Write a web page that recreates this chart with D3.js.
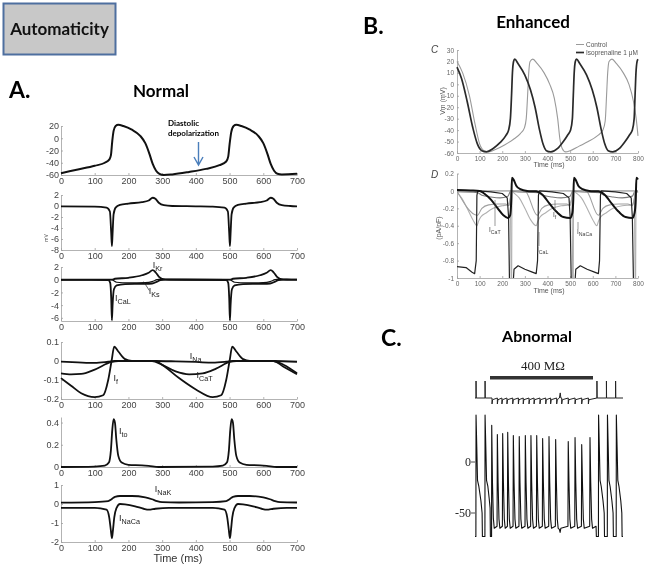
<!DOCTYPE html>
<html><head><meta charset="utf-8">
<script src="https://cdn.jsdelivr.net/npm/d3@7"></script>
<style>body{margin:0;background:#fff}svg{display:block}svg text{filter:grayscale(1)}</style>
</head><body>
<script>
// ---------------- DATA ----------------
const timeTicksA = [0,100,200,300,400,500,600,700];
const vmTicksA = [-60,-40,-20,0,20];
const totTicksA = [-8,-6,-4,-2,0,2];
const kTicksA = [-6,-4,-2,0,2];
const fTicksA = [-0.2,-0.1,0,0.1];
const toTicksA = [0,0.2,0.4];
const naTicksA = [-2,-1,0,1];

const vmNormal = [[0,-57],[50,-51],[100,-45],[130,-40],[143,-35],[148,-28],[152,-5],[156,12],[162,20],[170,22],[185,20],[210,14],[235,4],[250,-8],[262,-25],[272,-42],[282,-53],[292,-58],[305,-60],[330,-59],[380,-55],[430,-50],[470,-44],[490,-38],[496,-30],[500,-10],[505,10],[512,20],[520,22],[535,20],[560,14],[585,4],[600,-8],[612,-25],[622,-42],[632,-53],[642,-58],[655,-59],[700,-58]];
const iTotal = [[0,-0.05],[100,-0.1],[135,-0.3],[145,-1],[149,-5],[151,-7.3],[153,-5],[156,-1.5],[162,-0.3],[175,0.2],[200,0.45],[240,0.7],[260,1.0],[272,1.5],[280,1.3],[290,0.6],[305,0.15],[330,0],[400,-0.05],[450,-0.1],[485,-0.3],[495,-1],[499,-5],[501,-7.3],[503,-5],[506,-1.5],[512,-0.3],[525,0.2],[550,0.45],[590,0.7],[610,1.0],[622,1.5],[630,1.3],[640,0.6],[655,0.15],[680,0],[700,-0.05]];
const iKr = [[0,0.02],[140,0.02],[150,0],[160,0.15],[200,0.3],[240,0.7],[260,1.1],[272,1.5],[280,1.2],[290,0.5],[300,0.15],[320,0.03],[490,0.02],[500,0],[510,0.15],[550,0.3],[590,0.7],[610,1.1],[622,1.5],[630,1.2],[640,0.5],[650,0.15],[670,0.03],[700,0.02]];
const iKs = [[0,0],[150,0],[165,-0.4],[200,-0.5],[250,-0.45],[270,-0.3],[285,0],[290,0.05],[310,0],[500,0],[515,-0.4],[550,-0.5],[600,-0.45],[620,-0.3],[635,0],[640,0.05],[660,0],[700,0]];
const iCaL = [[0,-0.02],[140,-0.05],[146,-0.5],[149,-3],[151,-6.4],[153,-4],[157,-1.5],[165,-0.9],[190,-0.7],[240,-0.65],[270,-0.6],[285,-0.3],[295,-0.05],[310,0],[490,-0.05],[496,-0.5],[499,-3],[501,-6.4],[503,-4],[507,-1.5],[515,-0.9],[540,-0.7],[590,-0.65],[620,-0.6],[635,-0.3],[645,-0.05],[660,0],[700,0]];
const iNa = [[0,-0.003],[50,-0.007],[100,-0.01],[140,-0.004],[160,0],[280,0],[340,-0.002],[400,-0.005],[450,-0.009],[490,-0.004],[510,0],[630,0],[700,-0.004]];
const iF = [[0,-0.09],[30,-0.13],[60,-0.17],[100,-0.19],[125,-0.18],[140,-0.1],[150,0],[158,0.075],[170,0.05],[190,0.01],[210,0],[280,0],[300,-0.02],[350,-0.09],[400,-0.15],[450,-0.19],[475,-0.18],[490,-0.1],[500,0],[508,0.075],[520,0.05],[540,0.01],[560,0],[630,0],[660,-0.03],[700,-0.07]];
const iCaT = [[0,-0.065],[30,-0.07],[60,-0.068],[100,-0.045],[150,-0.005],[170,0],[270,0],[300,-0.02],[340,-0.055],[380,-0.07],[420,-0.065],[460,-0.04],[500,-0.005],[520,0],[630,0],[660,-0.02],[700,-0.065]];
const iTo = [[0,0],[100,0.004],[130,0.012],[142,0.04],[148,0.15],[152,0.33],[156,0.43],[160,0.4],[164,0.25],[170,0.1],[180,0.04],[200,0.02],[240,0.015],[260,0.01],[290,0],[450,0.004],[480,0.012],[492,0.04],[498,0.15],[502,0.33],[506,0.43],[510,0.4],[514,0.25],[520,0.1],[530,0.04],[550,0.02],[590,0.015],[610,0.01],[640,0],[700,0]];
const iNaK = [[0,0.07],[100,0.1],[140,0.15],[150,0.25],[160,0.38],[175,0.42],[210,0.42],[250,0.35],[270,0.25],[285,0.15],[300,0.1],[350,0.08],[450,0.1],[490,0.15],[500,0.25],[510,0.38],[525,0.42],[560,0.42],[600,0.35],[620,0.25],[635,0.15],[650,0.1],[700,0.08]];
const iNaCa = [[0,-0.2],[100,-0.2],[135,-0.3],[143,-0.7],[148,-1.4],[151,-1.8],[154,-1.4],[158,-0.7],[165,-0.2],[175,0],[190,-0.02],[220,-0.12],[245,-0.25],[260,-0.3],[280,-0.25],[320,-0.2],[450,-0.2],[485,-0.3],[493,-0.7],[498,-1.4],[501,-1.8],[504,-1.4],[508,-0.7],[515,-0.2],[525,0],[540,-0.02],[570,-0.12],[595,-0.25],[610,-0.3],[630,-0.25],[670,-0.2],[700,-0.2]];

// Panel B
const timeTicksB = [0,100,200,300,400,500,600,700,800];
const vmTicksB = [-60,-50,-40,-30,-20,-10,0,10,20,30];
const curTicksB = [-1,-0.8,-0.6,-0.4,-0.2,0,0.2];
const vmIso = [[0,15],[20,5],[45,-15],[70,-38],[90,-52],[110,-58],[130,-59],[160,-56],[190,-51],[215,-45],[228,-40],[236,-30],[241,-10],[245,10],[250,20],[255,22],[270,18],[300,8],[325,-5],[345,-20],[365,-40],[380,-52],[395,-58],[415,-59],[445,-56],[470,-50],[490,-44],[502,-40],[510,-30],[514,-10],[518,10],[523,20],[528,22],[543,18],[573,8],[598,-5],[618,-20],[638,-40],[653,-52],[668,-58],[688,-59],[718,-56],[743,-50],[763,-44],[775,-40],[783,-30],[787,-10],[791,10],[796,20],[800,22]];
const vmControl = [[0,20],[25,10],[55,-10],[80,-35],[100,-52],[120,-58],[140,-59],[170,-57],[210,-53],[250,-48],[280,-43],[298,-38],[306,-30],[312,-10],[317,10],[323,20],[335,22],[355,18],[385,10],[410,0],[430,-12],[445,-30],[455,-48],[465,-56],[480,-59],[500,-58],[540,-54],[580,-50],[620,-45],[645,-40],[655,-32],[661,-10],[666,10],[672,20],[685,22],[705,18],[735,10],[760,0],[780,-15],[792,-30],[800,-45]];
const dZero = [[0,0],[800,0]];
const dFIso = [[0,-0.02],[20,-0.08],[45,-0.2],[70,-0.33],[88,-0.4],[95,-0.35],[105,-0.3],[130,-0.25],[160,-0.2],[200,-0.17],[225,-0.16],[236,-0.08],[242,0],[250,-0.02],[275,-0.08],[300,-0.2],[325,-0.33],[350,-0.4],[357,-0.35],[367,-0.3],[392,-0.25],[422,-0.2],[462,-0.17],[495,-0.16],[508,-0.08],[515,0],[525,-0.02],[550,-0.08],[575,-0.2],[600,-0.33],[618,-0.4],[625,-0.35],[635,-0.3],[660,-0.25],[690,-0.2],[730,-0.17],[775,-0.16],[785,-0.08],[792,0],[800,-0.02]];
const dCaTIso = [[0,-0.01],[90,-0.02],[110,-0.05],[150,-0.07],[190,-0.08],[225,-0.06],[238,0],[260,-0.01],[360,-0.02],[380,-0.05],[420,-0.07],[460,-0.08],[500,-0.06],[512,0],[535,-0.01],[630,-0.02],[650,-0.05],[690,-0.07],[730,-0.08],[775,-0.06],[788,0],[800,-0.01]];
const dCaTCtrl = [[0,0],[90,-0.28],[110,-0.2],[140,-0.16],[180,-0.15],[215,-0.15],[230,-0.17],[238,-0.05],[243,0],[300,0],[355,-0.28],[375,-0.2],[405,-0.16],[445,-0.15],[485,-0.15],[500,-0.17],[510,-0.05],[516,0],[570,0],[625,-0.28],[645,-0.2],[675,-0.16],[715,-0.15],[755,-0.15],[775,-0.17],[787,-0.05],[792,0],[800,0]];
const dNaCa = [[0,0.01],[60,0.005],[100,0],[120,-0.03],[150,-0.1],[180,-0.2],[205,-0.28],[225,-0.31],[235,-0.28],[240,-0.1],[243,0.15],[250,0.13],[262,0.06],[280,0.02],[310,0],[350,-0.005],[380,-0.05],[410,-0.15],[440,-0.24],[470,-0.3],[500,-0.31],[510,-0.25],[514,-0.1],[517,0.15],[524,0.13],[536,0.06],[555,0.02],[585,0],[625,-0.005],[655,-0.05],[685,-0.15],[715,-0.24],[745,-0.3],[775,-0.31],[785,-0.25],[790,-0.1],[793,0.15],[800,0.13]];
const dCaL = [[0,-0.87],[40,-0.88],[65,-0.93],[78,-0.95],[85,-0.8],[88,-0.05],[92,0],[150,-0.01],[200,-0.03],[222,-0.08],[228,-0.3],[232,-1.05],[235,-1.5],[245,-1.2],[252,-0.9],[270,-0.86],[300,-0.9],[330,-0.93],[350,-0.95],[356,-0.8],[360,-0.05],[365,0],[420,-0.01],[470,-0.03],[495,-0.08],[500,-0.3],[505,-1.05],[508,-1.5],[518,-1.2],[525,-0.9],[545,-0.86],[575,-0.9],[605,-0.93],[625,-0.95],[630,-0.8],[634,-0.05],[638,0],[700,-0.01],[750,-0.03],[770,-0.08],[775,-0.3],[780,-1.05],[783,-1.5]];
const dCaLCtrl = [[0,0],[236,0],[241,-1.5],[243,0],[508,0],[513,-1.5],[515,0],[784,0],[789,-1.5],[791,0],[800,0]];

// Panel C
const vTicksC = [-50,0];
const stimTrace = [[0,0],[0.7,0],[0.7,1],[0.8,0],[6.8,0],[6.8,1],[6.9,0],[11.5,0],[11.5,-0.35],[11.9,-0.1],[15.1,0],[15.1,-0.35],[15.5,-0.1],[18.2,0],[18.2,-0.35],[18.6,-0.1],[21.6,0],[21.6,-0.35],[22,-0.1],[25.5,0],[25.5,-0.35],[25.9,-0.1],[29.3,0],[29.3,-0.35],[29.7,-0.1],[32.6,0],[32.6,-0.35],[33,-0.1],[36.5,0],[36.5,-0.35],[36.9,-0.1],[39.9,0],[39.9,-0.35],[40.3,-0.1],[43.9,0],[43.9,-0.35],[44.3,-0.1],[47.8,0],[47.8,-0.35],[48.2,-0.1],[51.1,0],[51.1,-0.35],[51.5,-0.1],[55.2,0],[55.2,-0.35],[55.6,-0.1],[57,0],[57.6,0.3],[58,0],[58.6,0],[58.6,-0.35],[59,-0.1],[63,0],[63,-0.35],[63.4,-0.1],[67.6,0],[67.6,-0.35],[68,-0.1],[72.1,0],[72.1,-0.35],[72.5,-0.1],[76.6,0],[76.6,-0.35],[77,-0.1],[82.4,0],[82.4,1],[82.5,0],[88.8,0],[88.8,1],[88.9,0],[95,0],[95,1],[95.1,0],[100,0]];
const apTrace = [[0,-73],[0.6,-73],[0.7,46],[1.2,15],[1.7,-18],[2.6,-24],[4.0,-38],[4.8,-50],[5.0,-73],[6.7,-73],[6.8,46],[7.3,15],[7.8,-18],[8.7,-24],[9.6,-36],[10.2,-45],[10.4,-73],[11.2,-73],[11.3,36],[11.8,-20],[12.4,-55],[13.0,-65],[14.9,-63],[15.1,27],[15.6,-20],[16.2,-56],[16.8,-65],[18.5,-63],[18.7,28],[19.2,-20],[19.8,-56],[20.4,-65],[21.9,-63],[22.1,29],[22.6,-20],[23.2,-56],[23.8,-65],[25.7,-63],[25.9,26],[26.4,-20],[27,-56],[27.6,-65],[29.7,-63],[29.9,25],[30.4,-20],[31,-56],[31.6,-65],[33.8,-63],[34,26],[34.5,-20],[35.1,-56],[35.7,-65],[37.6,-63],[37.8,26],[38.3,-20],[38.9,-56],[39.5,-65],[41.5,-63],[41.7,26],[42.2,-20],[42.8,-56],[43.4,-65],[45.5,-63],[45.7,23],[46.2,-20],[46.8,-56],[47.4,-65],[49.8,-63],[50,25],[50.5,-20],[51.1,-56],[51.7,-65],[54.3,-63],[54.5,22],[55,-20],[55.6,-56],[56.2,-65],[57,-66],[57.5,-69],[58,-65],[62.8,-63],[63,20],[63.5,-20],[64.1,-56],[64.7,-65],[67.4,-63],[67.6,24],[68.1,-20],[68.7,-56],[69.3,-65],[71.9,-63],[72.1,17],[72.6,-20],[73.2,-56],[73.8,-65],[77.5,-63],[77.7,24],[78.2,-20],[78.8,-56],[79.4,-65],[81.8,-63],[82,-73],[83.4,-73],[83.5,46],[84,15],[84.5,-18],[85.3,-24],[86.5,-38],[87.3,-50],[87.5,-73],[89.4,-73],[89.5,46],[90,15],[90.5,-18],[91.3,-24],[92.5,-38],[93.3,-50],[93.5,-73],[95.4,-73],[95.5,46],[96,15],[96.5,-18],[97.3,-24],[98.5,-38],[99.2,-50],[99.4,-73],[100,-73]];

// ---------------- DRAW ----------------
const svg = d3.select("body").append("svg").attr("width",649).attr("height",565);
const SANS = "Liberation Sans, Arial, sans-serif";
const TITLE = "Lato, 'Open Sans', sans-serif";
const fmt = d => String(d);

// header box
svg.append("rect").attr("x",3.5).attr("y",3.5).attr("width",112).attr("height",51)
  .attr("fill","#c8c8c8").attr("stroke","#4e6f9f").attr("stroke-width",2);
svg.append("text").attr("x",59.5).attr("y",35).attr("text-anchor","middle")
  .attr("font-family",TITLE).attr("font-weight","bold").attr("font-size",17).attr("fill","#111").text("Automaticity");

function bigText(x,y,t,size,anchor){
  svg.append("text").attr("x",x).attr("y",y).attr("text-anchor",anchor||"start")
    .attr("font-family",TITLE).attr("font-weight","bold").attr("font-size",size).attr("fill","#000").text(t);
}
bigText(9,98,"A.",23);
bigText(161,97,"Normal",17,"middle");
bigText(363,34,"B.",23);
bigText(533,28,"Enhanced",17,"middle");
bigText(381,346,"C.",23);
bigText(537,342,"Abnormal",16,"middle");

function subLabel(g,x,y,main,sub,size,fill){
  const t = g.append("text").attr("x",x).attr("y",y).attr("font-family",SANS).attr("font-size",size).attr("fill",fill||"#222");
  t.append("tspan").text(main);
  t.append("tspan").attr("dy",size*0.35).attr("font-size",size*0.8).text(sub);
}

// ---- Panel A ----
const xA = d3.scaleLinear([0,700],[61,297]);
const lineGen = (x,y,curve)=>d3.line().x(d=>x(d[0])).y(d=>y(d[1])).curve(curve||d3.curveMonotoneX);

function styleAxis(g,fs,col){
  g.selectAll("path.domain").attr("stroke","#a0a0a0").attr("stroke-width",0.8);
  g.selectAll(".tick line").attr("stroke","#a0a0a0").attr("stroke-width",0.8);
  g.selectAll(".tick text").attr("font-family",SANS).attr("font-size",fs).attr("fill",col);
}
function aPlot(domain,range,ticks,series){
  const y = d3.scaleLinear(domain,range);
  const g = svg.append("g");
  const ga = g.append("g").attr("transform",`translate(${xA(0)},0)`)
    .call(d3.axisLeft(y).tickValues(ticks).tickFormat(fmt).tickSize(-2).tickSizeOuter(0).tickPadding(2));
  styleAxis(ga,9,"#444");
  const gb = g.append("g").attr("transform",`translate(0,${y(domain[0])})`)
    .call(d3.axisBottom(xA).tickValues(timeTicksA).tickFormat(fmt).tickSize(-2).tickSizeOuter(0).tickPadding(3));
  styleAxis(gb,9,"#444");
  series.forEach(s=>{
    g.append("path").datum(s.data).attr("d",lineGen(xA,y)).attr("fill","none")
      .attr("stroke",s.color||"#111").attr("stroke-width",s.w||1.8).attr("stroke-linejoin","round");
  });
  return {g,y};
}
const p1 = aPlot([-60,20],[175,126],vmTicksA,[{data:vmNormal,w:2}]);
const p2 = aPlot([-8,2],[250,195],totTicksA,[{data:iTotal}]);
const p3 = aPlot([-6.5,2],[321,267],kTicksA,[{data:iKs,w:1.2},{data:iKr},{data:iCaL}]);
const p4 = aPlot([-0.2,0.1],[399,342],fTicksA,[{data:iNa},{data:iCaT},{data:iF}]);
const p5 = aPlot([0,0.45],[467,417],toTicksA,[{data:iTo}]);
const p6 = aPlot([-2,1],[542,485],naTicksA,[{data:iNaK},{data:iNaCa}]);

// tiny remnant y label
svg.append("text").attr("transform","translate(48,238) rotate(-90)").attr("text-anchor","middle")
  .attr("font-family",SANS).attr("font-size",5).attr("fill","#555").text("mV");

// annotations A
svg.append("text").attr("x",168).attr("y",126).attr("font-family",TITLE).attr("font-weight","bold").attr("font-size",8).text("Diastolic");
svg.append("text").attr("x",168).attr("y",136).attr("font-family",TITLE).attr("font-weight","bold").attr("font-size",8).text("depolarization");
svg.append("path").attr("d","M198.5,142 L198.5,165 M194,157 L198.5,165 L203,157").attr("fill","none").attr("stroke","#4a7ebb").attr("stroke-width",1.4);

subLabel(svg,xA(272),p3.y(1.8),"I","Kr",9);
subLabel(svg,xA(260),p3.y(-2.3),"I","Ks",9);
svg.append("line").attr("x1",xA(245)).attr("y1",p3.y(-0.3)).attr("x2",xA(262)).attr("y2",p3.y(-1.7)).attr("stroke","#222").attr("stroke-width",0.7);
subLabel(svg,xA(160),p3.y(-3.4),"I","CaL",9);
subLabel(svg,xA(382),p4.y(0.012),"I","Na",9);
subLabel(svg,xA(402),p4.y(-0.088),"I","CaT",9);
subLabel(svg,xA(156),p4.y(-0.105),"I","f",9);
subLabel(svg,xA(172),p5.y(0.3),"I","to",9);
subLabel(svg,xA(278),p6.y(0.62),"I","NaK",9);
subLabel(svg,xA(172),p6.y(-0.9),"I","NaCa",9);
svg.append("text").attr("x",178).attr("y",562).attr("text-anchor","middle").attr("font-family",SANS).attr("font-size",11).attr("fill","#333").text("Time (ms)");

// ---- Panel B ----
const xB = d3.scaleLinear([0,800],[457,638]);
const yBC = d3.scaleLinear([-60,30],[153,50]);
const yBD = d3.scaleLinear([-1,0.2],[278,173.5]);
function bAxes(y,ticks){
  const ga = svg.append("g").attr("transform",`translate(${xB(0)},0)`)
    .call(d3.axisLeft(y).tickValues(ticks).tickFormat(fmt).tickSize(-2).tickSizeOuter(0).tickPadding(3));
  styleAxis(ga,6.5,"#666");
  const gb = svg.append("g").attr("transform",`translate(0,${y.range()[0]})`)
    .call(d3.axisBottom(xB).tickValues(timeTicksB).tickFormat(fmt).tickSize(-2).tickSizeOuter(0).tickPadding(3));
  styleAxis(gb,6.5,"#666");
}
bAxes(yBC,vmTicksB);
bAxes(yBD,curTicksB);
svg.append("defs").append("clipPath").attr("id","clipD").append("rect")
  .attr("x",xB(0)).attr("y",yBD(0.2)-3).attr("width",xB(800)-xB(0)+3).attr("height",yBD(-1)-yBD(0.2)+3);
const gC = svg.append("g");
gC.append("path").datum(vmControl).attr("d",lineGen(xB,yBC)).attr("fill","none").attr("stroke","#9a9a9a").attr("stroke-width",1.1);
gC.append("path").datum(vmIso).attr("d",lineGen(xB,yBC)).attr("fill","none").attr("stroke","#2a2a2a").attr("stroke-width",1.7);
const gD = svg.append("g").attr("clip-path","url(#clipD)");
const dSeries = [
  {d:dZero,c:"#b8b8b8",w:1},
  {d:dFIso,c:"#b0b0b0",w:1.1},
  {d:dCaTCtrl,c:"#a0a0a0",w:1.1},
  {d:dCaTIso,c:"#7a7a7a",w:1.1},
  {d:dCaLCtrl,c:"#a8a8a8",w:1,lin:true},
  {d:dCaL,c:"#222",w:1.2,lin:true},
  {d:dNaCa,c:"#111",w:2}
];
dSeries.forEach(s=>{
  gD.append("path").datum(s.d).attr("d",lineGen(xB,yBD,s.lin?d3.curveLinear:d3.curveMonotoneX))
    .attr("fill","none").attr("stroke",s.c).attr("stroke-width",s.w).attr("stroke-linejoin","round");
});
function bText(x,y,t,size,opts){
  const e = svg.append("text").attr("x",x).attr("y",y).attr("font-family",SANS).attr("font-size",size).attr("fill",(opts&&opts.fill)||"#555").text(t);
  if(opts&&opts.italic) e.attr("font-style","italic");
  if(opts&&opts.anchor) e.attr("text-anchor",opts.anchor);
  if(opts&&opts.rot) e.attr("transform",`rotate(-90,${x},${y})`);
  return e;
}
bText(431,53,"C",10,{italic:true,fill:"#444"});
bText(431,178,"D",10,{italic:true,fill:"#444"});
bText(445,101,"Vm (mV)",7,{anchor:"middle",rot:true});
bText(441,228,"(pA/pF)",7,{anchor:"middle",rot:true});
bText(549,167,"Time (ms)",7,{anchor:"middle"});
bText(549,293,"Time (ms)",7,{anchor:"middle"});
svg.append("line").attr("x1",576).attr("x2",584).attr("y1",44.5).attr("y2",44.5).attr("stroke","#9a9a9a").attr("stroke-width",1);
svg.append("line").attr("x1",576).attr("x2",584).attr("y1",52.5).attr("y2",52.5).attr("stroke","#2a2a2a").attr("stroke-width",1.7);
bText(586,47,"Control",6.5);
bText(586,55,"Isoprenaline 1 \u03bcM",6.5);
subLabel(svg,489,232,"I","CaT",6.5,"#444");
subLabel(svg,553,217,"I","f",6.5,"#444");
subLabel(svg,537,252,"I","CaL",6.5,"#444");
subLabel(svg,577,234,"I","NaCa",6.5,"#444");
[[495,200,495,226],[555,200,555,211],[539,232,539,246],[578,222,578,229]].forEach(l=>
  svg.append("line").attr("x1",l[0]).attr("y1",l[1]).attr("x2",l[2]).attr("y2",l[3]).attr("stroke","#555").attr("stroke-width",0.6));

// ---- Panel C ----
const xC = d3.scaleLinear([0,100],[475,623]);
const yC = d3.scaleLinear([-50,0],[513,462]);
const yStim = d3.scaleLinear([0,1],[398,381]);
svg.append("rect").attr("x",490).attr("y",376).attr("width",103).attr("height",3.5).attr("fill","#333");
svg.append("text").attr("x",543).attr("y",370).attr("text-anchor","middle").attr("font-family","Liberation Serif, Times New Roman, serif").attr("font-size",13).attr("fill","#222").text("400 M\u03a9");
svg.append("path").datum(stimTrace).attr("d",lineGen(xC,yStim,d3.curveLinear)).attr("fill","none").attr("stroke","#222").attr("stroke-width",1);
svg.append("path").datum(apTrace).attr("d",lineGen(xC,yC,d3.curveLinear)).attr("fill","none").attr("stroke","#111").attr("stroke-width",1.1).attr("stroke-linejoin","round");
vTicksC.forEach(v=>{
  svg.append("text").attr("x",471).attr("y",yC(v)+4).attr("text-anchor","end").attr("font-family","Liberation Serif, Times New Roman, serif").attr("font-size",12).attr("fill","#222").text(String(v));
  svg.append("line").attr("x1",471).attr("x2",475).attr("y1",yC(v)).attr("y2",yC(v)).attr("stroke","#222").attr("stroke-width",0.8);
});
</script>
</body></html>
